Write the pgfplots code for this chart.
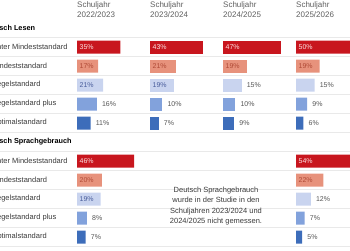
\documentclass[border=0pt]{standalone}
\usepackage{pgfplots}
\pgfplotsset{compat=1.18}
\usepackage{fontspec}
\setmainfont{Liberation Sans}

\definecolor{cU}{HTML}{C8161E}
\definecolor{cM}{HTML}{E7927C}
\definecolor{cR}{HTML}{C9D4EF}
\definecolor{cRP}{HTML}{82A2DC}
\definecolor{cO}{HTML}{3D6DBA}
\definecolor{tU}{HTML}{FBE3E3}
\definecolor{tM}{HTML}{B04A36}
\definecolor{tR}{HTML}{4A5E9C}
\definecolor{tOut}{HTML}{555555}
\definecolor{gridc}{HTML}{E9E9E9}
\definecolor{headc}{HTML}{5F5F5F}
\definecolor{labc}{HTML}{3A3A3A}

\tikzset{valfont/.style={font=\fontsize{7}{8}\selectfont}}
\pgfplotsset{
  col/.style={
    scale only axis, x=1.24pt, y=19pt, y dir=reverse,
    xmin=0, xmax=60, ymin=-0.5, ymax=10.5,
    axis lines=none, ticks=none, clip=false,
    anchor=origin,
    /pgf/number format/assume math mode=true,
  },
  bar/.style={xbar, bar width=13pt, bar shift=0pt, draw=none, fill=#1},
  % value printed inside the bar, at its start
  lin/.style={only marks, mark=none, point meta=explicit,
    nodes near coords={\pgfmathprintnumber{\pgfplotspointmeta}\%},
    every node near coord/.style={anchor=west, xshift=2.5pt, valfont, text=#1, inner sep=0pt}},
  % value printed to the right of the bar end
  lout/.style={only marks, mark=none, point meta=x,
    nodes near coords={\pgfmathprintnumber{\pgfplotspointmeta}\%},
    every node near coord/.style={anchor=west, xshift=5pt, valfont, text=tOut, inner sep=0pt}},
}

\begin{document}
\begin{tikzpicture}
\begin{scope}
\clip (0pt,0pt) rectangle (350pt,250pt);

% row separators
\foreach \t in {37.5,56.5,75.5,94.5,113.5,132.5,151.5,170.5,189.5,208.5,227.5,246.5}
  \draw[gridc, line width=0.5pt] (0pt,{(250-\t)*1pt}) -- (350pt,{(250-\t)*1pt});

% row labels
\foreach \r/\txt in {0/Unter Mindeststandard,1/Mindeststandard,2/Regelstandard,3/Regelstandard plus,4/Optimalstandard,
                     6/Unter Mindeststandard,7/Mindeststandard,8/Regelstandard,9/Regelstandard plus,10/Optimalstandard}
  \node[anchor=west, inner sep=0pt, text=labc, font=\fontsize{7.5}{9}\selectfont] at (-8.5pt,{(203-19*\r)*1pt}) {\txt};
\node[anchor=west, inner sep=0pt, text=black, font=\bfseries\fontsize{7.3}{9}\selectfont] at (-17pt,222pt) {Deutsch Lesen};
\node[anchor=west, inner sep=0pt, text=black, font=\bfseries\fontsize{7.3}{9}\selectfont] at (-17pt,108pt) {Deutsch Sprachgebrauch};

% column headers
\foreach \x/\ya/\yb in {77/2022/2023,150/2023/2024,223/2024/2025,296/2025/2026}
  \node[anchor=north west, inner sep=0pt, align=left, text=headc, font=\fontsize{8}{9.5}\selectfont] at (\x pt,248pt) {Schuljahr\\\ya/\yb};

% note for the years without Sprachgebrauch
\node[align=center, inner sep=0pt, text=labc, font=\fontsize{7.5}{10.3}\selectfont] at (216pt,44pt)
  {Deutsch Sprachgebrauch\\wurde in der Studie in den\\Schuljahren 2023/2024 und\\2024/2025 nicht gemessen.};

% Schuljahr 2022/2023
\begin{axis}[col, at={(77pt,203pt)}]
\addplot[bar=cU]  coordinates {(35,0) (46,6)};
\addplot[bar=cM]  coordinates {(17,1) (20,7)};
\addplot[bar=cR]  coordinates {(21,2) (19,8)};
\addplot[bar=cRP] coordinates {(16,3) (8,9)};
\addplot[bar=cO]  coordinates {(11,4) (7,10)};
\addplot[lin=tU] coordinates {(0,0) [35] (0,6) [46]};
\addplot[lin=tM] coordinates {(0,1) [17] (0,7) [20]};
\addplot[lin=tR] coordinates {(0,2) [21] (0,8) [19]};
\addplot[lout] coordinates {(16,3) (8,9) (11,4) (7,10)};
\end{axis}

% Schuljahr 2023/2024
\begin{axis}[col, at={(150pt,203pt)}]
\addplot[bar=cU]  coordinates {(43,0)};
\addplot[bar=cM]  coordinates {(21,1)};
\addplot[bar=cR]  coordinates {(19,2)};
\addplot[bar=cRP] coordinates {(10,3)};
\addplot[bar=cO]  coordinates {(7,4)};
\addplot[lin=tU] coordinates {(0,0) [43]};
\addplot[lin=tM] coordinates {(0,1) [21]};
\addplot[lin=tR] coordinates {(0,2) [19]};
\addplot[lout] coordinates {(10,3) (7,4)};
\end{axis}

% Schuljahr 2024/2025
\begin{axis}[col, at={(223pt,203pt)}]
\addplot[bar=cU]  coordinates {(47,0)};
\addplot[bar=cM]  coordinates {(19,1)};
\addplot[bar=cR]  coordinates {(15,2)};
\addplot[bar=cRP] coordinates {(10,3)};
\addplot[bar=cO]  coordinates {(9,4)};
\addplot[lin=tU] coordinates {(0,0) [47]};
\addplot[lin=tM] coordinates {(0,1) [19]};
\addplot[lout] coordinates {(15,2) (10,3) (9,4)};
\end{axis}

% Schuljahr 2025/2026
\begin{axis}[col, at={(296pt,203pt)}]
\addplot[bar=cU]  coordinates {(50,0) (54,6)};
\addplot[bar=cM]  coordinates {(19,1) (22,7)};
\addplot[bar=cR]  coordinates {(15,2) (12,8)};
\addplot[bar=cRP] coordinates {(9,3) (7,9)};
\addplot[bar=cO]  coordinates {(6,4) (5,10)};
\addplot[lin=tU] coordinates {(0,0) [50] (0,6) [54]};
\addplot[lin=tM] coordinates {(0,1) [19] (0,7) [22]};
\addplot[lout] coordinates {(15,2) (12,8) (9,3) (7,9) (6,4) (5,10)};
\end{axis}
\end{scope}

\pgfresetboundingbox
\useasboundingbox (0pt,0pt) rectangle (350pt,250pt);
\end{tikzpicture}
\end{document}
